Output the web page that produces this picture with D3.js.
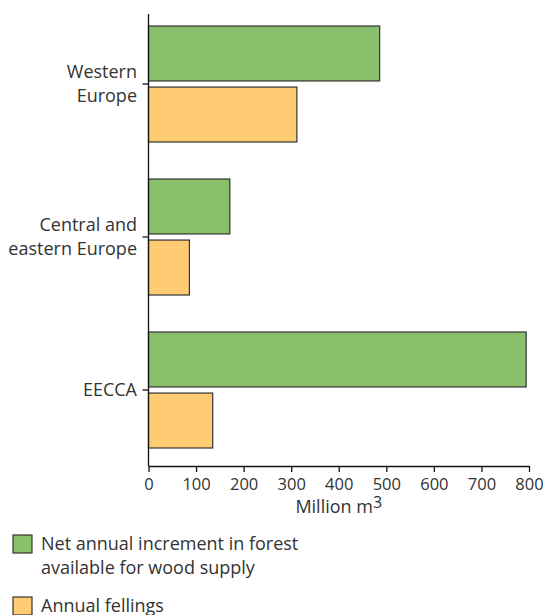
<!DOCTYPE html>
<html>
<head>
<meta charset="utf-8">
<script src="https://cdn.jsdelivr.net/npm/d3@7"></script>
<style>
  body { margin: 0; background: #fff; }
  svg text { font-family: "Open Sans", sans-serif; fill: #333; }
</style>
</head>
<body>
<svg id="chart" width="543" height="615"></svg>
<script>
const regions = ['Western Europe', 'Central and eastern Europe', 'EECCA'];
const regionLines = [['Western', 'Europe'], ['Central and', 'eastern Europe'], ['EECCA']];
const seriesNames = ['Net annual increment in forest available for wood supply', 'Annual fellings'];
const legendLines = [['Net annual increment in forest', 'available for wood supply'], ['Annual fellings']];
const increment = [486, 171, 794];
const fellings = [312, 86, 135];
const xTicks = [0, 100, 200, 300, 400, 500, 600, 700, 800];
const colors = ['#8abf6b', '#ffcc73'];

const svg = d3.select('#chart');
const left = 148.5, right = 529, axisTop = 14, axisBottom = 466;

const x = d3.scaleLinear().domain([0, 800]).range([left, right]);
const y0 = d3.scaleBand().domain(regions).range([7.5, 466.5]);
const y1 = d3.scaleBand().domain([0, 1]).range([18.5, 134.5]).paddingInner(0.1);

const rows = regions.map((r, i) => ({ region: r, values: [increment[i], fellings[i]] }));

const groups = svg.selectAll('g.region')
    .data(rows)
    .join('g')
    .attr('class', 'region')
    .attr('transform', d => `translate(0, ${y0(d.region)})`);

groups.selectAll('rect')
    .data(d => d.values)
    .join('rect')
    .attr('x', x(0))
    .attr('y', (d, i) => y1(i))
    .attr('width', d => x(d) - x(0))
    .attr('height', y1.bandwidth())
    .attr('fill', (d, i) => colors[i])
    .attr('stroke', '#333')
    .attr('stroke-width', 1.2);

// y axis
const mid = d => y0(d) + y0.bandwidth() / 2;
const yAxis = svg.append('g');
yAxis.append('line')
    .attr('x1', left).attr('x2', left)
    .attr('y1', axisTop).attr('y2', axisBottom)
    .attr('stroke', '#111').attr('stroke-width', 1.3);
yAxis.selectAll('line.tick')
    .data(regions)
    .join('line')
    .attr('class', 'tick')
    .attr('x1', left - 6).attr('x2', left)
    .attr('y1', mid)
    .attr('y2', mid)
    .attr('stroke', '#111').attr('stroke-width', 1.3);
yAxis.selectAll('text')
    .data(regions)
    .join('text')
    .attr('text-anchor', 'end')
    .attr('font-size', 18)
    .each(function (d, i) {
        const lines = regionLines[i];
        const t = d3.select(this);
        const base = lines.length === 1 ? mid(d) + 6 : mid(d) - 6;
        lines.forEach((l, j) => {
            t.append('tspan')
                .attr('x', 137)
                .attr('y', base + j * 23.5)
                .text(l);
        });
    });

// x axis
const xAxis = svg.append('g')
    .attr('transform', `translate(0, ${axisBottom})`)
    .call(d3.axisBottom(x).tickValues(xTicks).tickSize(6).tickSizeOuter(0));
xAxis.select('.domain').attr('stroke', '#111').attr('stroke-width', 1.3);
xAxis.selectAll('.tick line').attr('stroke', '#111').attr('stroke-width', 1.3);
xAxis.selectAll('.tick text')
    .attr('font-size', 16.5)
    .attr('font-family', '"Open Sans", sans-serif')
    .attr('fill', '#333')
    .attr('y', 23.5)
    .attr('dy', 0);

const title = svg.append('text')
    .attr('x', (left + right) / 2)
    .attr('y', 512.5)
    .attr('text-anchor', 'middle')
    .attr('font-size', 18);
title.append('tspan').text('Million m');
title.append('tspan').attr('dy', -5).attr('font-size', 16).text('3');

// legend
const legendY = [535, 597];
const legend = svg.selectAll('g.legend')
    .data(seriesNames)
    .join('g')
    .attr('class', 'legend')
    .attr('transform', (d, i) => `translate(13, ${legendY[i]})`);
legend.append('rect')
    .attr('width', 19).attr('height', 18)
    .attr('fill', (d, i) => colors[i])
    .attr('stroke', '#333').attr('stroke-width', 1.2);
legend.append('text')
    .attr('font-size', 18)
    .each(function (d, i) {
        const t = d3.select(this);
        legendLines[i].forEach((l, j) => {
            t.append('tspan').attr('x', 28).attr('y', 15 + j * 24).text(l);
        });
    });
</script>
</body>
</html>
